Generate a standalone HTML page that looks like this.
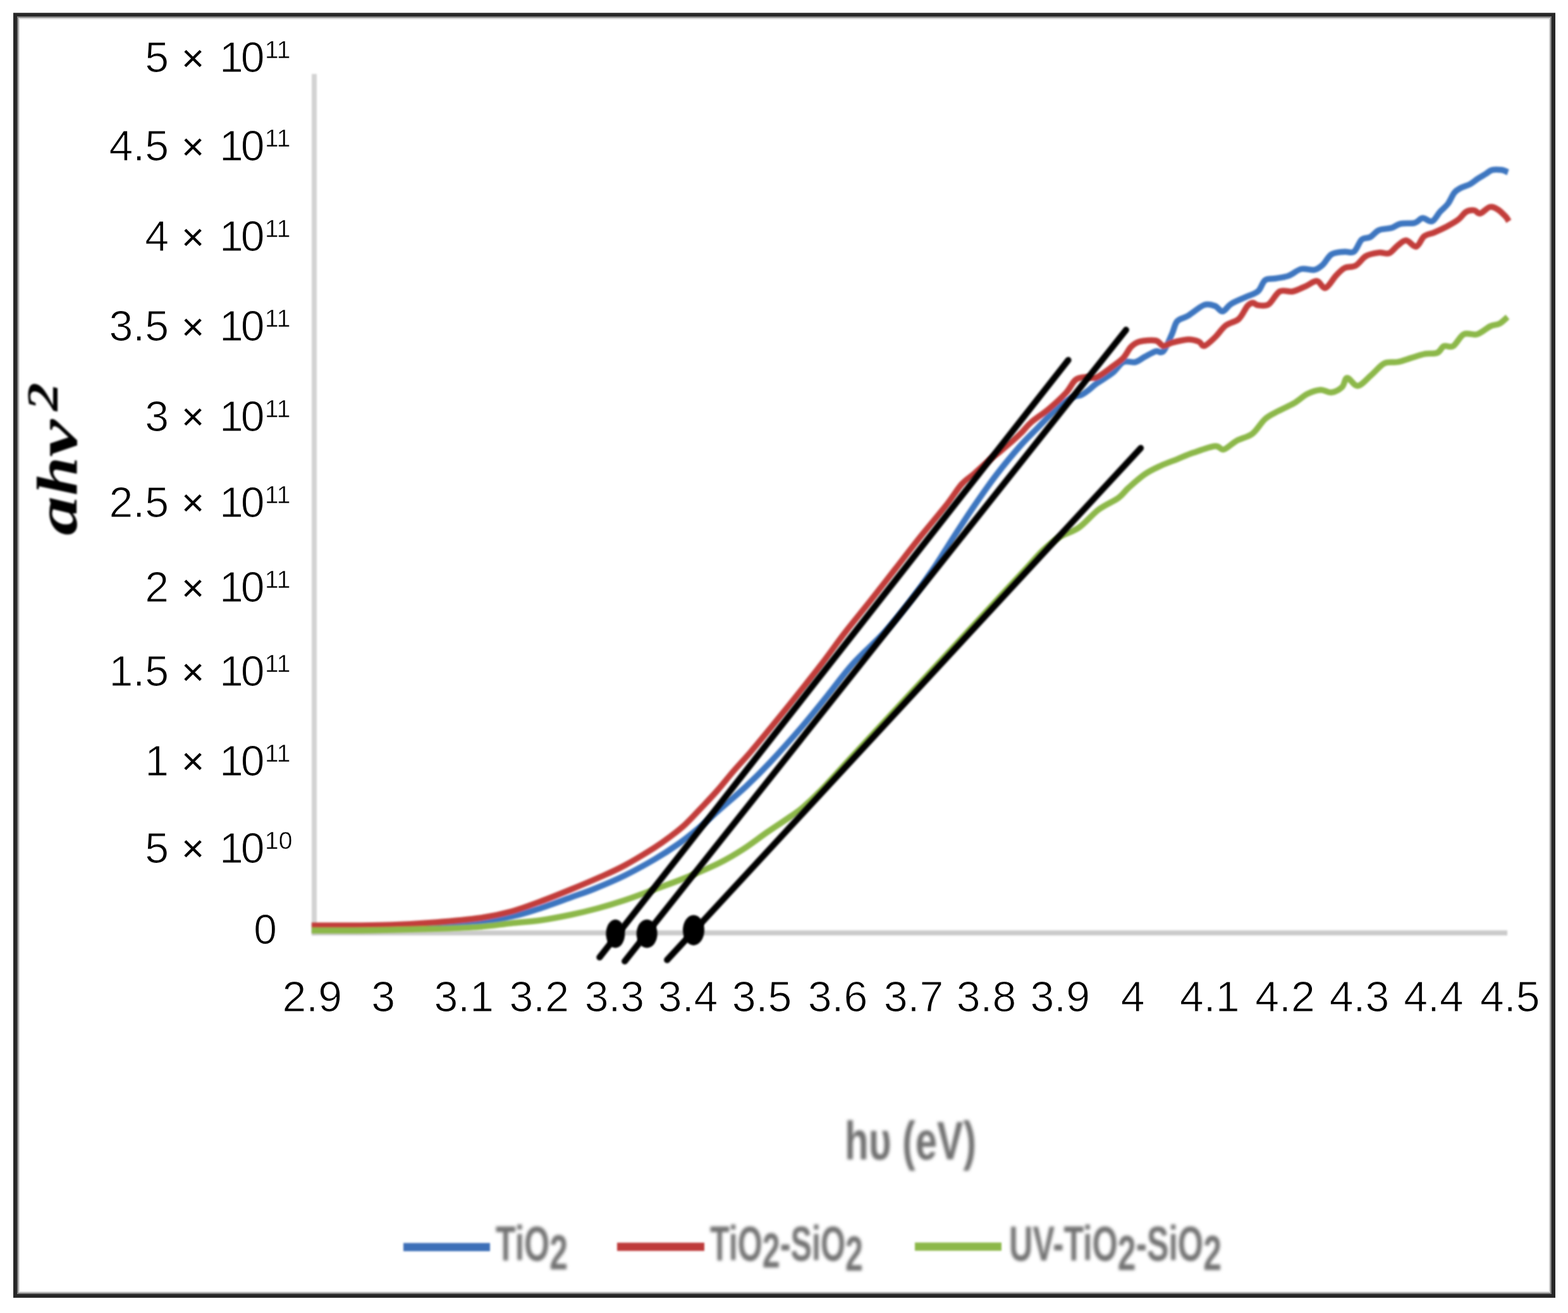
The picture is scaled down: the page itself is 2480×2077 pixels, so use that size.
<!DOCTYPE html>
<html><head><meta charset="utf-8"><title>ahv2 vs hv</title>
<style>html,body{margin:0;padding:0;background:#fff;}svg{display:block;}</style>
</head><body>
<svg width="2480" height="2077" viewBox="0 0 2480 2077">
<defs><filter id="b0" filterUnits="userSpaceOnUse" x="0" y="0" width="2480" height="2077"><feGaussianBlur stdDeviation="0.6"/></filter><filter id="b1" filterUnits="userSpaceOnUse" x="0" y="0" width="2480" height="2077"><feGaussianBlur stdDeviation="1.5"/></filter><filter id="b2" filterUnits="userSpaceOnUse" x="0" y="0" width="2480" height="2077"><feGaussianBlur stdDeviation="2.6"/></filter></defs>
<rect width="2480" height="2077" fill="#fff"/>
<rect x="24" y="23.3" width="2433" height="2026.6" fill="none" stroke="#262626" stroke-width="6"/>
<rect x="28" y="27.3" width="2425" height="2018.6" fill="none" stroke="#7a7a7a" stroke-width="2"/>
<rect x="30" y="29.3" width="2421" height="2014.6" fill="none" stroke="#d2d2d2" stroke-width="2"/>
<g filter="url(#b1)">
<line x1="497" y1="117" x2="497" y2="1480" stroke="#d3d3d3" stroke-width="8"/>
<line x1="493" y1="1475.7" x2="2384" y2="1475.7" stroke="#cbcbcb" stroke-width="8"/>
</g>
<g fill="none" stroke-width="9.5" stroke-linejoin="round" stroke-linecap="butt" filter="url(#b1)">
<path d="M493.0,1468.0 C504.2,1468.0 538.8,1468.2 560.0,1468.0 C581.2,1467.8 598.3,1467.7 620.0,1467.0 C641.7,1466.3 666.7,1465.3 690.0,1464.0 C713.3,1462.7 738.8,1461.7 760.0,1459.0 C781.2,1456.3 801.2,1451.7 817.0,1448.0 C832.8,1444.3 840.7,1441.5 855.0,1436.7 C869.3,1432.0 888.8,1424.6 903.0,1419.5 C917.2,1414.4 925.8,1411.8 940.0,1406.0 C954.2,1400.2 972.2,1392.8 988.0,1385.0 C1003.8,1377.2 1020.8,1367.8 1035.0,1359.5 C1049.2,1351.2 1061.3,1343.2 1073.0,1335.0 C1084.7,1326.8 1094.0,1319.2 1105.0,1310.0 C1116.0,1300.8 1126.5,1291.0 1139.0,1280.0 C1151.5,1269.0 1167.0,1256.2 1180.0,1244.0 C1193.0,1231.8 1202.3,1222.7 1217.0,1207.0 C1231.7,1191.3 1252.7,1167.8 1268.0,1150.0 C1283.3,1132.2 1295.5,1116.7 1309.0,1100.0 C1322.5,1083.3 1334.0,1066.7 1349.0,1050.0 C1364.0,1033.3 1383.8,1016.7 1399.0,1000.0 C1414.2,983.3 1427.2,966.7 1440.0,950.0 C1452.8,933.3 1464.7,916.7 1476.0,900.0 C1487.3,883.3 1497.2,866.7 1508.0,850.0 C1518.8,833.3 1529.7,816.5 1541.0,800.0 C1552.3,783.5 1564.0,766.7 1576.0,751.0 C1588.0,735.3 1602.3,718.2 1613.0,706.0 C1623.7,693.8 1631.0,687.2 1640.0,678.0 C1649.0,668.8 1657.8,659.2 1667.0,651.0 C1676.2,642.8 1687.8,633.3 1695.0,629.0 C1702.2,624.7 1705.5,627.0 1710.0,625.0 C1714.5,623.0 1718.0,620.0 1722.0,617.0 C1726.0,614.0 1727.8,611.4 1734.1,606.9 C1740.4,602.4 1752.6,595.6 1759.7,589.9 C1766.8,584.2 1770.8,575.6 1776.8,572.8 C1782.8,569.9 1789.8,574.2 1795.5,572.8 C1801.2,571.4 1805.5,567.1 1810.9,564.3 C1816.3,561.4 1823.1,557.1 1827.9,555.7 C1832.7,554.3 1835.6,560.2 1839.9,555.7 C1844.2,551.2 1849.8,536.5 1853.5,528.5 C1857.2,520.5 1857.7,512.8 1862.0,508.0 C1866.3,503.2 1872.0,503.8 1879.1,499.5 C1886.2,495.2 1897.6,485.0 1904.7,482.4 C1911.8,479.8 1916.9,482.4 1921.7,484.1 C1926.5,485.8 1929.4,493.2 1933.7,492.6 C1938.0,492.0 1940.8,484.7 1947.3,480.7 C1953.8,476.7 1965.8,472.1 1972.9,468.8 C1980.0,465.5 1985.3,464.9 1990.0,460.6 C1994.7,456.3 1996.4,446.6 2000.9,443.2 C2005.5,439.8 2011.2,441.6 2017.3,440.5 C2023.4,439.4 2031.0,438.9 2037.8,436.4 C2044.6,433.9 2051.4,427.1 2058.2,425.5 C2065.0,423.9 2073.0,428.0 2078.7,426.9 C2084.4,425.8 2087.8,422.8 2092.3,418.7 C2096.9,414.6 2100.3,405.7 2106.0,402.3 C2111.7,398.9 2120.5,398.9 2126.4,398.2 C2132.3,397.5 2136.9,401.4 2141.5,398.2 C2146.1,395.0 2149.4,383.0 2153.7,379.1 C2158.0,375.2 2162.8,377.5 2167.4,375.0 C2172.0,372.5 2175.4,366.5 2181.0,364.1 C2186.6,361.7 2195.3,362.2 2201.0,360.5 C2206.7,358.8 2208.9,355.3 2215.0,354.0 C2221.1,352.7 2231.7,354.1 2237.5,352.6 C2243.3,351.1 2245.4,345.5 2250.0,345.1 C2254.6,344.7 2260.4,351.8 2265.0,350.1 C2269.6,348.4 2273.3,339.7 2277.5,335.1 C2281.7,330.5 2286.2,327.5 2290.0,322.5 C2293.8,317.5 2296.8,309.2 2300.1,305.0 C2303.4,300.8 2305.9,299.8 2310.1,297.5 C2314.3,295.2 2320.5,293.8 2325.1,291.3 C2329.7,288.8 2333.4,285.2 2337.6,282.5 C2341.8,279.8 2346.3,277.3 2350.1,275.0 C2353.8,272.7 2355.9,269.8 2360.1,268.8 C2364.3,267.8 2370.9,268.2 2375.1,268.8 C2379.3,269.4 2383.4,271.9 2385.1,272.5" stroke="#3d76c0"/>
<path d="M493.0,1464.0 C504.2,1464.0 538.8,1464.2 560.0,1464.0 C581.2,1463.8 598.3,1463.8 620.0,1463.0 C641.7,1462.2 666.7,1460.8 690.0,1459.0 C713.3,1457.2 740.3,1454.8 760.0,1452.0 C779.7,1449.2 792.2,1446.3 808.0,1442.0 C823.8,1437.7 839.2,1431.8 855.0,1426.0 C870.8,1420.2 887.2,1413.5 903.0,1407.0 C918.8,1400.5 935.8,1393.3 950.0,1387.0 C964.2,1380.7 973.8,1376.7 988.0,1369.0 C1002.2,1361.3 1023.0,1348.6 1035.0,1341.0 C1047.0,1333.4 1051.8,1329.7 1060.0,1323.5 C1068.2,1317.3 1075.7,1311.8 1084.0,1304.0 C1092.3,1296.2 1101.5,1286.0 1110.0,1277.0 C1118.5,1268.0 1126.7,1259.5 1135.0,1250.0 C1143.3,1240.5 1151.2,1230.2 1160.0,1220.0 C1168.8,1209.8 1177.7,1200.7 1187.7,1189.0 C1197.7,1177.3 1207.9,1164.8 1220.0,1150.0 C1232.1,1135.2 1247.2,1116.7 1260.5,1100.0 C1273.8,1083.3 1287.0,1066.7 1299.8,1050.0 C1312.5,1033.3 1324.1,1016.7 1337.0,1000.0 C1349.9,983.3 1363.8,966.7 1377.0,950.0 C1390.2,933.3 1403.0,916.7 1416.0,900.0 C1429.0,883.3 1441.7,866.7 1455.0,850.0 C1468.3,833.3 1485.0,814.0 1496.0,800.0 C1507.0,786.0 1513.7,774.3 1521.0,766.0 C1528.3,757.7 1533.2,756.0 1540.0,750.0 C1546.8,744.0 1555.0,736.0 1562.0,730.0 C1569.0,724.0 1575.3,719.5 1582.0,714.0 C1588.7,708.5 1596.3,702.0 1602.0,697.0 C1607.7,692.0 1611.2,688.8 1616.0,684.0 C1620.8,679.2 1624.0,674.1 1631.0,668.0 C1638.0,661.9 1649.2,655.0 1658.3,647.3 C1667.4,639.6 1678.5,629.6 1685.6,621.9 C1692.7,614.2 1695.8,605.2 1701.0,601.0 C1706.2,596.8 1711.0,597.1 1716.5,596.4 C1722.0,595.7 1726.8,599.8 1734.0,597.0 C1741.2,594.2 1752.6,584.8 1759.7,579.6 C1766.8,574.4 1772.0,571.1 1776.8,566.0 C1781.6,560.9 1784.5,553.2 1788.7,548.9 C1793.0,544.6 1795.8,542.1 1802.3,540.4 C1808.8,538.7 1821.6,537.6 1827.9,538.7 C1834.2,539.8 1835.6,546.6 1839.9,547.2 C1844.2,547.8 1847.0,543.8 1853.5,542.1 C1860.0,540.4 1872.0,537.3 1879.1,537.0 C1886.2,536.7 1891.8,538.7 1896.1,540.4 C1900.4,542.1 1900.4,548.3 1904.7,547.2 C1909.0,546.1 1916.0,539.0 1921.7,533.6 C1927.4,528.2 1932.5,519.6 1938.8,514.8 C1945.1,510.0 1953.6,509.7 1959.3,504.6 C1965.0,499.5 1969.2,488.4 1972.9,484.1 C1976.6,479.8 1978.6,479.2 1981.4,479.0 C1984.2,478.8 1985.8,482.4 1990.0,482.8 C1994.2,483.2 2000.7,485.1 2006.4,481.5 C2012.1,477.9 2017.7,464.4 2024.1,461.0 C2030.5,457.6 2037.8,462.4 2044.6,461.0 C2051.4,459.6 2058.6,455.5 2065.0,452.8 C2071.4,450.1 2077.6,444.2 2082.8,444.6 C2088.0,445.1 2091.4,456.9 2096.4,455.5 C2101.4,454.1 2107.8,441.6 2112.8,436.4 C2117.8,431.2 2121.2,426.8 2126.4,424.1 C2131.6,421.4 2138.5,423.3 2144.2,420.1 C2149.9,416.9 2154.5,408.4 2160.6,405.0 C2166.7,401.6 2174.9,400.4 2181.0,399.6 C2187.1,398.9 2192.2,402.3 2197.0,400.5 C2201.8,398.7 2205.5,392.4 2210.0,389.0 C2214.5,385.6 2219.0,380.1 2224.0,380.3 C2229.0,380.5 2235.2,391.2 2240.0,390.1 C2244.8,389.0 2247.7,377.6 2252.5,373.8 C2257.3,370.1 2263.0,370.1 2268.8,367.6 C2274.7,365.1 2281.3,362.1 2287.6,358.8 C2293.8,355.5 2301.1,351.6 2306.3,347.6 C2311.5,343.7 2314.6,337.6 2318.8,335.1 C2323.0,332.6 2327.6,332.2 2331.3,332.6 C2335.1,333.0 2337.1,338.5 2341.3,337.6 C2345.5,336.8 2351.7,328.6 2356.3,327.5 C2360.9,326.4 2364.7,328.8 2368.9,331.3 C2373.1,333.8 2378.5,339.5 2381.4,342.6 C2384.3,345.7 2385.6,348.9 2386.4,350.1" stroke="#c23e3b"/>
<path d="M493.0,1472.0 C504.2,1472.0 538.8,1472.2 560.0,1472.0 C581.2,1471.8 596.7,1471.5 620.0,1471.0 C643.3,1470.5 676.7,1469.8 700.0,1469.0 C723.3,1468.2 742.0,1467.4 760.0,1466.0 C778.0,1464.6 792.2,1462.2 808.0,1460.5 C823.8,1458.8 839.2,1458.0 855.0,1455.7 C870.8,1453.5 888.0,1450.1 903.0,1447.0 C918.0,1443.9 930.8,1440.8 945.0,1437.0 C959.2,1433.2 973.0,1429.0 988.0,1424.0 C1003.0,1419.0 1019.2,1412.8 1035.0,1407.0 C1050.8,1401.2 1065.8,1396.0 1083.0,1389.0 C1100.2,1382.0 1122.5,1372.7 1138.0,1365.0 C1153.5,1357.3 1163.3,1351.2 1176.0,1343.0 C1188.7,1334.8 1201.3,1324.8 1214.0,1316.0 C1226.7,1307.2 1242.7,1297.0 1252.0,1290.5 C1261.3,1284.0 1262.2,1283.8 1270.0,1277.0 C1277.8,1270.2 1286.0,1262.8 1298.5,1250.0 C1311.0,1237.2 1329.3,1216.7 1344.7,1200.0 C1360.1,1183.3 1375.6,1166.7 1391.0,1150.0 C1406.4,1133.3 1421.8,1116.7 1437.2,1100.0 C1452.6,1083.3 1468.1,1066.7 1483.5,1050.0 C1498.9,1033.3 1514.4,1016.7 1529.8,1000.0 C1545.2,983.3 1560.6,966.7 1576.0,950.0 C1591.4,933.3 1610.0,913.3 1622.3,900.0 C1634.6,886.7 1641.2,878.3 1650.0,870.0 C1658.8,861.7 1665.6,855.9 1675.0,850.0 C1684.4,844.1 1696.0,841.8 1706.5,834.5 C1717.0,827.2 1727.4,813.8 1737.8,806.0 C1748.2,798.2 1761.2,793.3 1769.0,787.6 C1776.8,781.9 1777.7,778.2 1784.7,771.9 C1791.7,765.6 1802.3,755.9 1810.9,750.0 C1819.5,744.1 1827.9,740.5 1836.4,736.5 C1844.9,732.5 1853.5,729.7 1862.0,726.3 C1870.5,722.9 1877.6,719.5 1887.6,716.1 C1897.5,712.7 1913.7,706.6 1921.7,705.8 C1929.7,704.9 1929.7,712.4 1935.4,711.0 C1941.1,709.6 1948.2,701.5 1955.8,697.3 C1963.4,693.1 1973.5,691.8 1981.0,686.0 C1988.5,680.2 1994.2,668.7 2001.0,662.7 C2007.8,656.7 2014.2,654.4 2021.9,650.2 C2029.6,646.0 2039.3,642.1 2047.0,637.6 C2054.7,633.1 2061.0,626.5 2068.0,623.0 C2075.0,619.5 2082.6,617.1 2088.9,616.7 C2095.2,616.3 2100.1,621.5 2105.7,620.8 C2111.3,620.1 2118.3,616.3 2122.5,612.5 C2126.7,608.7 2126.6,598.1 2130.8,597.8 C2135.0,597.4 2141.3,611.1 2147.6,610.4 C2153.9,609.7 2161.6,599.5 2168.6,593.6 C2175.6,587.7 2182.5,578.3 2189.5,574.8 C2196.5,571.3 2203.5,574.1 2210.5,572.7 C2217.5,571.3 2224.4,568.5 2231.4,566.4 C2238.4,564.3 2245.4,561.5 2252.4,560.1 C2259.4,558.7 2268.1,560.1 2273.3,558.0 C2278.5,555.9 2279.6,549.2 2283.8,547.5 C2288.0,545.8 2293.3,550.6 2298.5,547.5 C2303.7,544.4 2308.9,531.8 2315.2,528.7 C2321.5,525.6 2329.2,530.8 2336.2,528.7 C2343.2,526.6 2351.2,518.9 2357.1,516.1 C2363.0,513.3 2367.2,514.4 2371.8,511.9 C2376.4,509.4 2382.3,503.1 2384.4,501.4" stroke="#8cb84a"/>
</g>
<g fill="none" stroke="#000" stroke-width="10" stroke-linecap="round" stroke-linejoin="round" filter="url(#b1)">
<polyline points="948.3,1514.3 1689.6,569.6"/>
<polyline points="988.1,1520.6 1781.0,521.8"/>
<polyline points="1055.1,1518.5 1804.2,708.8"/>
</g>
<g fill="#000" filter="url(#b1)">
<ellipse cx="973.4" cy="1477" rx="15" ry="22.5"/>
<ellipse cx="1023.2" cy="1477" rx="16.5" ry="22.5"/>
<ellipse cx="1097" cy="1471.4" rx="17" ry="24"/>
</g>
<g font-family='"Liberation Sans", Arial, sans-serif' fill="#000" stroke="#fff" stroke-width="1.1" filter="url(#b0)">
<text x="267" y="114.3" font-size="68" text-anchor="end">5</text>
<text x="287" y="112.8" font-size="62" stroke="none">×</text>
<text x="347" y="114.3" font-size="68" letter-spacing="-4">10</text>
<text x="419" y="92.3" font-size="39" stroke-width="0.5">11</text>
<text x="267" y="254.3" font-size="68" text-anchor="end">4.5</text>
<text x="287" y="252.8" font-size="62" stroke="none">×</text>
<text x="347" y="254.3" font-size="68" letter-spacing="-4">10</text>
<text x="419" y="232.3" font-size="39" stroke-width="0.5">11</text>
<text x="267" y="397" font-size="68" text-anchor="end">4</text>
<text x="287" y="395.5" font-size="62" stroke="none">×</text>
<text x="347" y="397" font-size="68" letter-spacing="-4">10</text>
<text x="419" y="375" font-size="39" stroke-width="0.5">11</text>
<text x="267" y="539.2" font-size="68" text-anchor="end">3.5</text>
<text x="287" y="537.7" font-size="62" stroke="none">×</text>
<text x="347" y="539.2" font-size="68" letter-spacing="-4">10</text>
<text x="419" y="517.2" font-size="39" stroke-width="0.5">11</text>
<text x="267" y="681.5" font-size="68" text-anchor="end">3</text>
<text x="287" y="680.0" font-size="62" stroke="none">×</text>
<text x="347" y="681.5" font-size="68" letter-spacing="-4">10</text>
<text x="419" y="659.5" font-size="39" stroke-width="0.5">11</text>
<text x="267" y="817.8" font-size="68" text-anchor="end">2.5</text>
<text x="287" y="816.3" font-size="62" stroke="none">×</text>
<text x="347" y="817.8" font-size="68" letter-spacing="-4">10</text>
<text x="419" y="795.8" font-size="39" stroke-width="0.5">11</text>
<text x="267" y="952.1" font-size="68" text-anchor="end">2</text>
<text x="287" y="950.6" font-size="62" stroke="none">×</text>
<text x="347" y="952.1" font-size="68" letter-spacing="-4">10</text>
<text x="419" y="930.1" font-size="39" stroke-width="0.5">11</text>
<text x="267" y="1085.1" font-size="68" text-anchor="end">1.5</text>
<text x="287" y="1083.6" font-size="62" stroke="none">×</text>
<text x="347" y="1085.1" font-size="68" letter-spacing="-4">10</text>
<text x="419" y="1063.1" font-size="39" stroke-width="0.5">11</text>
<text x="267" y="1226.6" font-size="68" text-anchor="end">1</text>
<text x="287" y="1225.1" font-size="62" stroke="none">×</text>
<text x="347" y="1226.6" font-size="68" letter-spacing="-4">10</text>
<text x="419" y="1204.6" font-size="39" stroke-width="0.5">11</text>
<text x="267" y="1364.9" font-size="68" text-anchor="end">5</text>
<text x="287" y="1363.4" font-size="62" stroke="none">×</text>
<text x="347" y="1364.9" font-size="68" letter-spacing="-4">10</text>
<text x="419" y="1342.9" font-size="39" stroke-width="0.5">10</text>
<text x="438" y="1493.2" font-size="66" text-anchor="end">0</text>
<text x="493.8" y="1600" font-size="68" text-anchor="middle">2.9</text>
<text x="606.2" y="1600" font-size="68" text-anchor="middle">3</text>
<text x="733.8" y="1600" font-size="68" text-anchor="middle">3.1</text>
<text x="852.8" y="1600" font-size="68" text-anchor="middle">3.2</text>
<text x="971.9" y="1600" font-size="68" text-anchor="middle">3.3</text>
<text x="1088.1" y="1600" font-size="68" text-anchor="middle">3.4</text>
<text x="1205" y="1600" font-size="68" text-anchor="middle">3.5</text>
<text x="1325" y="1600" font-size="68" text-anchor="middle">3.6</text>
<text x="1445" y="1600" font-size="68" text-anchor="middle">3.7</text>
<text x="1560" y="1600" font-size="68" text-anchor="middle">3.8</text>
<text x="1676.7" y="1600" font-size="68" text-anchor="middle">3.9</text>
<text x="1791.7" y="1600" font-size="68" text-anchor="middle">4</text>
<text x="1913.3" y="1600" font-size="68" text-anchor="middle">4.1</text>
<text x="2032.5" y="1600" font-size="68" text-anchor="middle">4.2</text>
<text x="2150" y="1600" font-size="68" text-anchor="middle">4.3</text>
<text x="2267.5" y="1600" font-size="68" text-anchor="middle">4.4</text>
<text x="2388.3" y="1600" font-size="68" text-anchor="middle">4.5</text>
</g>
<text x="1336" y="1834" font-family='"Liberation Sans", Arial, sans-serif' font-size="86" font-weight="bold" fill="#707070" filter="url(#b2)" textLength="208" lengthAdjust="spacingAndGlyphs">hυ (eV)</text>
<g filter="url(#b1)" font-family='"Liberation Serif", serif' font-weight="bold" font-style="italic" fill="#000">
<text transform="translate(121,847) rotate(-90) scale(1.35,1)" font-size="92">a</text>
<text transform="translate(121,784) rotate(-90) scale(1.2,1)" font-size="92">h</text>
<text transform="translate(121,723) rotate(-90) scale(1.45,1)" font-size="92">v</text>
<text transform="translate(91,650) rotate(-90) scale(1.28,1)" font-size="70">2</text>
</g>
<g stroke-width="13" stroke-linecap="butt" filter="url(#b1)">
<line x1="638" y1="1972.8" x2="775" y2="1972.8" stroke="#3c70b8"/>
<line x1="976" y1="1972.3" x2="1114" y2="1972.3" stroke="#be3a3a"/>
<line x1="1447" y1="1972" x2="1584" y2="1972" stroke="#8cb848"/>
</g>
<text x="784" y="1994" textLength="114" font-family='"Liberation Sans", Arial, sans-serif' font-size="78" font-weight="bold" fill="#727272" filter="url(#b2)" lengthAdjust="spacingAndGlyphs">TiO<tspan dy="14">2</tspan></text>
<text x="1123" y="1993.5" textLength="242" font-family='"Liberation Sans", Arial, sans-serif' font-size="78" font-weight="bold" fill="#727272" filter="url(#b2)" lengthAdjust="spacingAndGlyphs">TiO<tspan dy="11">2</tspan><tspan dy="-11">-SiO</tspan><tspan dy="16">2</tspan></text>
<text x="1596" y="1994" textLength="336" font-family='"Liberation Sans", Arial, sans-serif' font-size="78" font-weight="bold" fill="#727272" filter="url(#b2)" lengthAdjust="spacingAndGlyphs">UV-TiO<tspan dy="15">2</tspan><tspan dy="-15">-SiO</tspan><tspan dy="15">2</tspan></text>
</svg>
</body></html>
